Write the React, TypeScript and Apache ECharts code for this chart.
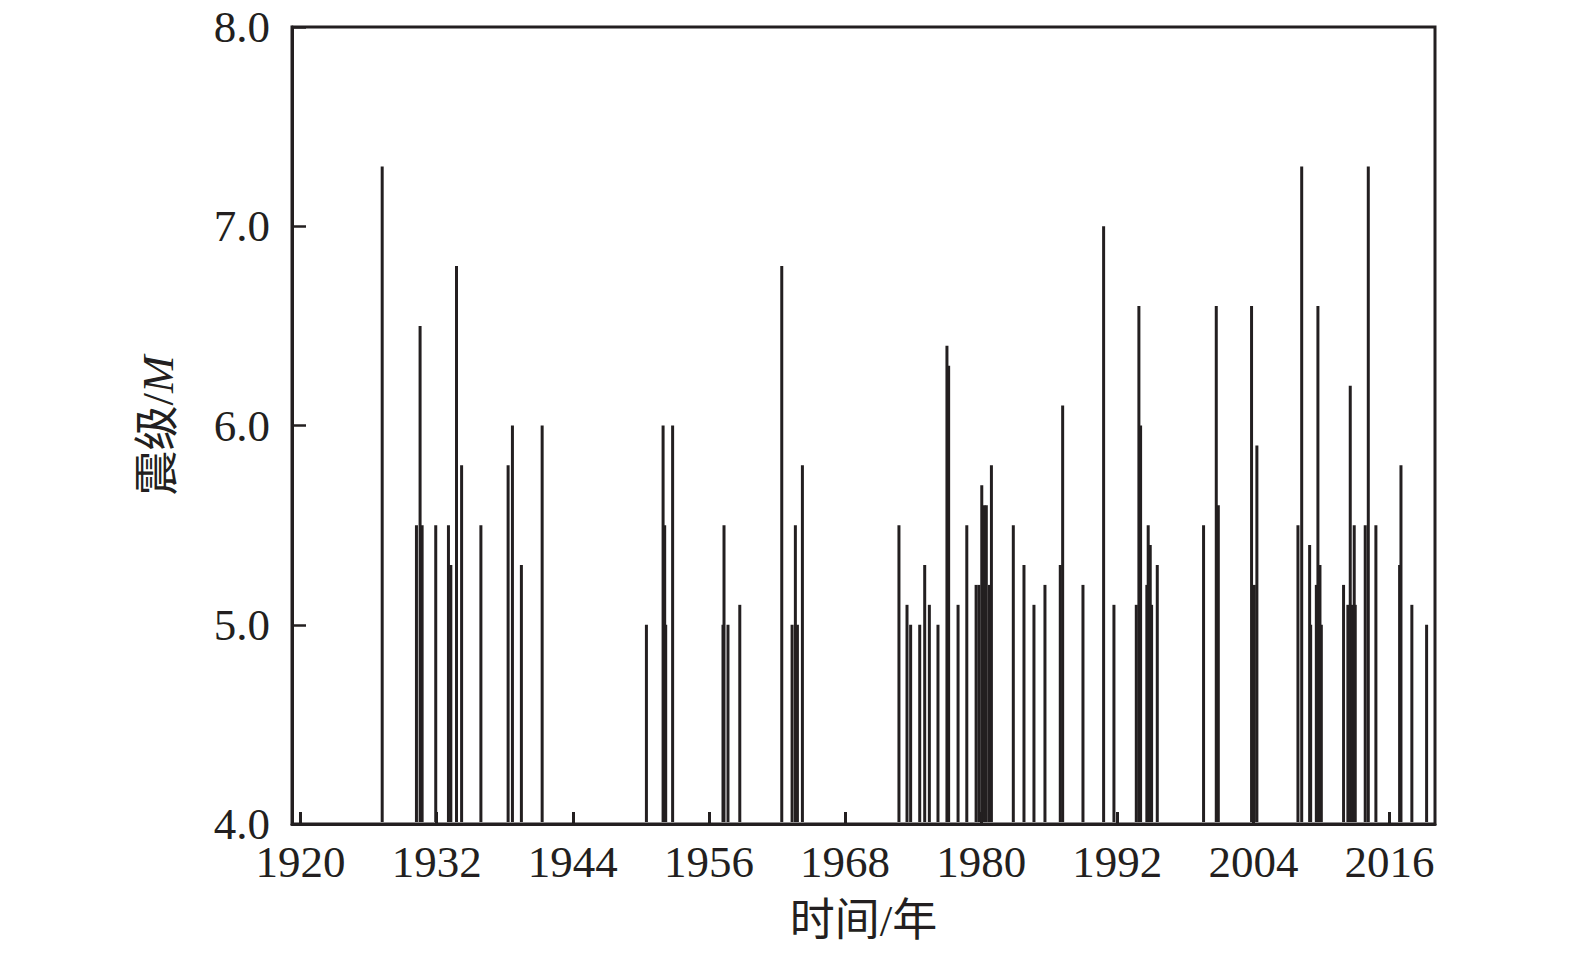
import React, { useEffect, useRef } from "react";
import * as echarts from "echarts";

// Event time (decimal year)
const years: number[] = [
  1927.2, 1930.22, 1930.54, 1930.72, 1931.92, 1933.04, 1933.25, 1933.75, 1934.2, 1935.9,
  1938.3, 1938.68, 1939.47, 1941.3, 1950.49, 1951.96, 1952.1, 1952.19, 1952.8, 1957.24,
  1957.33, 1957.68, 1958.72, 1962.42, 1963.33, 1963.62, 1963.8, 1964.24, 1972.75, 1973.46,
  1973.78, 1974.58, 1975.02, 1975.43, 1976.19, 1976.98, 1977.13, 1977.96, 1978.73, 1979.55,
  1979.8, 1980.05, 1980.25, 1980.45, 1980.72, 1980.9, 1982.83, 1983.77, 1984.65, 1985.62,
  1986.97, 1987.18, 1988.97, 1990.79, 1991.7, 1993.67, 1993.9, 1994.05, 1994.6, 1994.72,
  1994.9, 1995.02, 1995.52, 1999.6, 2000.72, 2000.9, 2003.83, 2004.07, 2004.3, 2007.92,
  2008.25, 2008.95, 2009.04, 2009.54, 2009.68, 2009.86, 2009.98, 2011.94, 2012.32, 2012.53,
  2012.7, 2012.88, 2012.97, 2013.85, 2014.12, 2014.79, 2016.88, 2017.0, 2017.96, 2019.26,
];

// Magnitude M of each event
const magnitudes: number[] = [
  7.3, 5.5, 6.5, 5.5, 5.5, 5.5, 5.3, 6.8, 5.8, 5.5,
  5.8, 6.0, 5.3, 6.0, 5.0, 6.0, 5.5, 5.0, 6.0, 5.0,
  5.5, 5.0, 5.1, 6.8, 5.0, 5.5, 5.0, 5.8, 5.5, 5.1,
  5.0, 5.0, 5.3, 5.1, 5.0, 6.4, 6.3, 5.1, 5.5, 5.2,
  5.2, 5.7, 5.6, 5.6, 5.2, 5.8, 5.5, 5.3, 5.1, 5.2,
  5.3, 6.1, 5.2, 7.0, 5.1, 5.1, 6.6, 6.0, 5.2, 5.5,
  5.4, 5.1, 5.3, 5.5, 6.6, 5.6, 6.6, 5.2, 5.9, 5.5,
  7.3, 5.4, 5.0, 5.2, 6.6, 5.3, 5.0, 5.2, 5.1, 6.2,
  5.1, 5.5, 5.1, 5.5, 7.3, 5.5, 5.3, 5.8, 5.1, 5.0,
];

const xTickLabels: number[] = [1920, 1932, 1944, 1956, 1968, 1980, 1992, 2004, 2016];
const yTickLabels: number[] = [4, 5, 6, 7, 8];

const INK = "#231f20";
const SERIF = "'Liberation Serif', 'Times New Roman', 'Noto Sans CJK SC', serif";

export default function App() {
  const ref = useRef<HTMLDivElement>(null);

  useEffect(() => {
    if (!ref.current) return;
    const chart = echarts.init(ref.current, undefined, { renderer: "svg" });
    const data = years.map((y, i) => [y, magnitudes[i]]);
    const yMin = yTickLabels[0];
    const yMax = yTickLabels[yTickLabels.length - 1];

    chart.setOption({
      animation: false,
      backgroundColor: "#ffffff",
      grid: {
        left: 292,
        right: 140,
        top: 27,
        bottom: 132,
        show: true,
        borderColor: INK,
        borderWidth: 3,
        backgroundColor: "transparent",
      },
      xAxis: {
        type: "value",
        min: 1919.25,
        max: 2020,
        name: "时间/年",
        nameLocation: "middle",
        nameGap: 74,
        nameTextStyle: { fontFamily: SERIF, fontSize: 45, color: INK },
        axisLine: { show: true, lineStyle: { color: INK, width: 3 } },
        axisTick: {
          show: true,
          inside: true,
          length: 12,
          lineStyle: { color: INK, width: 3 },
          customValues: xTickLabels,
        },
        axisLabel: {
          customValues: xTickLabels,
          fontFamily: SERIF,
          fontSize: 45,
          color: INK,
          margin: 15,
          formatter: (v: number) => String(Math.round(v)),
        },
        splitLine: { show: false },
      },
      yAxis: {
        type: "value",
        min: yMin,
        max: yMax,
        interval: 1,
        name: "震级/{i|M}",
        nameLocation: "middle",
        nameGap: 112,
        nameRotate: 90,
        nameTextStyle: {
          fontFamily: SERIF,
          fontSize: 45,
          color: INK,
          rich: {
            i: { fontFamily: SERIF, fontSize: 45, fontStyle: "italic", color: INK },
          },
        },
        axisLine: { show: true, lineStyle: { color: INK, width: 3 } },
        axisTick: {
          show: true,
          inside: true,
          length: 14,
          lineStyle: { color: INK, width: 2.5 },
        },
        axisLabel: {
          fontFamily: SERIF,
          fontSize: 45,
          color: INK,
          margin: 22,
          formatter: (v: number) => v.toFixed(1),
        },
        splitLine: { show: false },
      },
      series: [
        {
          type: "custom",
          clip: true,
          data,
          encode: { x: 0, y: 1 },
          renderItem: (params: any, api: any) => {
            const x = api.value(0);
            const v = api.value(1);
            const top = api.coord([x, v]);
            const bot = api.coord([x, yMin]);
            const w = 3;
            return {
              type: "rect",
              shape: { x: top[0] - w / 2, y: top[1], width: w, height: bot[1] - top[1] - 2 },
              style: { fill: INK },
            };
          },
        },
      ],
    });

    return () => chart.dispose();
  }, []);

  return (
    <div
      ref={ref}
      style={{ position: "fixed", left: 0, top: 0, width: 1575, height: 956, background: "#fff" }}
    />
  );
}
